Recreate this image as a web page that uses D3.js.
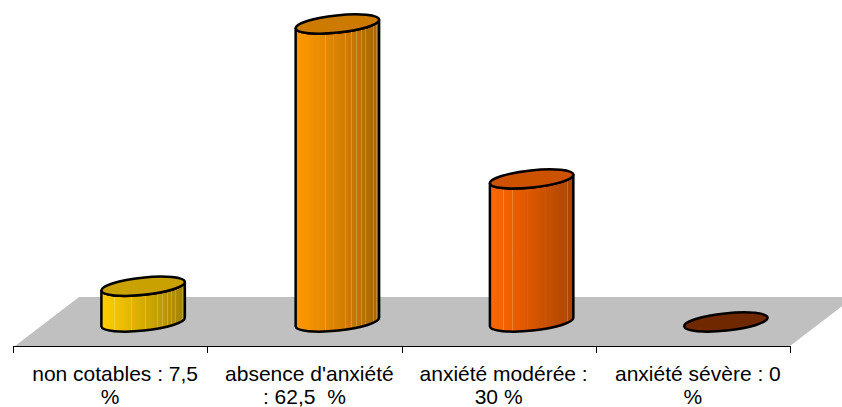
<!DOCTYPE html>
<html>
<head>
<meta charset="utf-8">
<script src="https://cdn.jsdelivr.net/npm/d3@7"></script>
<style>
  html, body { margin: 0; padding: 0; background: #fff; }
  svg { display: block; }
  text { font-family: "Liberation Sans", Arial, sans-serif; font-size: 21px; fill: #000; white-space: pre; }
</style>
</head>
<body>
<svg id="chart" width="842" height="407"></svg>
<script>
// Anxiety distribution (percent of patients)
const categories = ["non cotables", "absence d'anxiété", "anxiété modérée", "anxiété sévère"];
const values = [7.5, 62.5, 30, 0];
const tickLabels = [
  ["non cotables : 7,5", "%"],
  ["absence d'anxiété", ": 62,5  %"],
  ["anxiété modérée :", "30 %"],
  ["anxiété sévère : 0", "%"]
];

// Cylinder colours: lit side, shaded side, lid
const sideLight = ["#FFCC00", "#FF9900", "#FF6600", "#993300"];
const sideDark  = ["#A08300", "#A86400", "#A84400", "#5C1F00"];
const lidColors = ["#C9A100", "#CC7A00", "#CC5200", "#702800"];

const svg = d3.select("#chart");
const W = 842, H = 407;

const x = d3.scaleBand().domain(categories).range([13, 790]);
const y = d3.scaleLinear().domain([0, 62.5]).range([322, 24]);

// 3D layout: cylinders sit back on the floor, shifted right
const depthDX = 33;
const rx = x.bandwidth() * 0.216;
const ry = 8.6;
const tilt = -6;
const tr = tilt * Math.PI / 180;
const ax = rx * Math.cos(tr), ay = rx * Math.sin(tr);

// Floor
const x0 = x.range()[0], x1 = x.range()[1];
const floorFront = 346, floorBack = 297, floorSkew = 64;
svg.append("polygon")
  .attr("points", [
    [x0 + 2, floorFront], [x1, floorFront],
    [x1 + floorSkew, floorBack], [x0 + 2 + floorSkew, floorBack]
  ].map(p => p.join(",")).join(" "))
  .attr("fill", "#C0C0C0");

// Axis line with ticks at category boundaries
const axisG = svg.append("g");
axisG.append("line")
  .attr("x1", x0).attr("x2", x1)
  .attr("y1", floorFront + 0.5).attr("y2", floorFront + 0.5)
  .attr("stroke", "#000").attr("stroke-width", 1);
const bounds = categories.map(c => x(c)).concat([x1]);
axisG.selectAll("line.tick").data(bounds).join("line")
  .attr("class", "tick")
  .attr("x1", d => Math.round(d) + 0.5).attr("x2", d => Math.round(d) + 0.5)
  .attr("y1", floorFront).attr("y2", floorFront + 7)
  .attr("stroke", "#000").attr("stroke-width", 1);

// Category labels (two lines)
const lab = svg.append("g").selectAll("g").data(categories).join("g");
lab.append("text")
  .attr("x", d => x(d) + x.bandwidth() / 2 + 5)
  .attr("y", 381)
  .attr("text-anchor", "middle")
  .text((d, i) => tickLabels[i][0]);
lab.append("text")
  .attr("x", d => x(d) + x.bandwidth() / 2)
  .attr("y", 404)
  .attr("text-anchor", "middle")
  .text((d, i) => tickLabels[i][1]);

// Gradients for cylinder sides, with faint vertical banding
const defs = svg.append("defs");
const bands = [0.16, 0.27, 0.36, 0.45, 0.53, 0.6, 0.67, 0.73, 0.79, 0.84, 0.89, 0.93, 0.97];
categories.forEach((c, i) => {
  const g = defs.append("linearGradient")
    .attr("id", "side" + i)
    .attr("x1", 0).attr("x2", 1).attr("y1", 0).attr("y2", 0);
  const interp = d3.interpolateRgb(sideLight[i], sideDark[i]);
  const col = t => interp(Math.pow(t, 1.15));
  const stops = [];
  for (let k = 0; k <= 20; k++) stops.push([k / 20, col(k / 20)]);
  bands.forEach(b => {
    const light = d3.interpolateRgb(col(b), "#ffffff")(0.22);
    stops.push([b - 0.004, col(b - 0.004)]);
    stops.push([b - 0.003, light]);
    stops.push([b + 0.003, light]);
    stops.push([b + 0.004, col(b + 0.004)]);
  });
  stops.sort((a, b) => a[0] - b[0]);
  g.selectAll("stop").data(stops).join("stop")
    .attr("offset", d => d[0])
    .attr("stop-color", d => d[1]);
});

// Cylinders
const bars = svg.append("g").selectAll("g").data(categories).join("g");
bars.each(function (c, i) {
  const g = d3.select(this);
  const cx = x(c) + x.bandwidth() / 2 + depthDX;
  const yb = y(0), yt = y(values[i]);
  if (values[i] > 0) {
    const p = `M${cx - ax},${yt - ay} L${cx - ax},${yb - ay} ` +
      `A${rx},${ry} ${tilt} 0 0 ${cx + ax},${yb + ay} ` +
      `L${cx + ax},${yt + ay} ` +
      `A${rx},${ry} ${tilt} 0 1 ${cx - ax},${yt - ay} Z`;
    g.append("path")
      .attr("d", p)
      .attr("fill", `url(#side${i})`)
      .attr("stroke", "#000").attr("stroke-width", 2.5)
      .attr("stroke-linejoin", "round");
  }
  g.append("ellipse")
    .attr("cx", 0).attr("cy", 0)
    .attr("rx", rx).attr("ry", ry)
    .attr("transform", `translate(${cx},${yt}) rotate(${tilt})`)
    .attr("fill", lidColors[i])
    .attr("stroke", "#000").attr("stroke-width", 2.5);
});
</script>
</body>
</html>
